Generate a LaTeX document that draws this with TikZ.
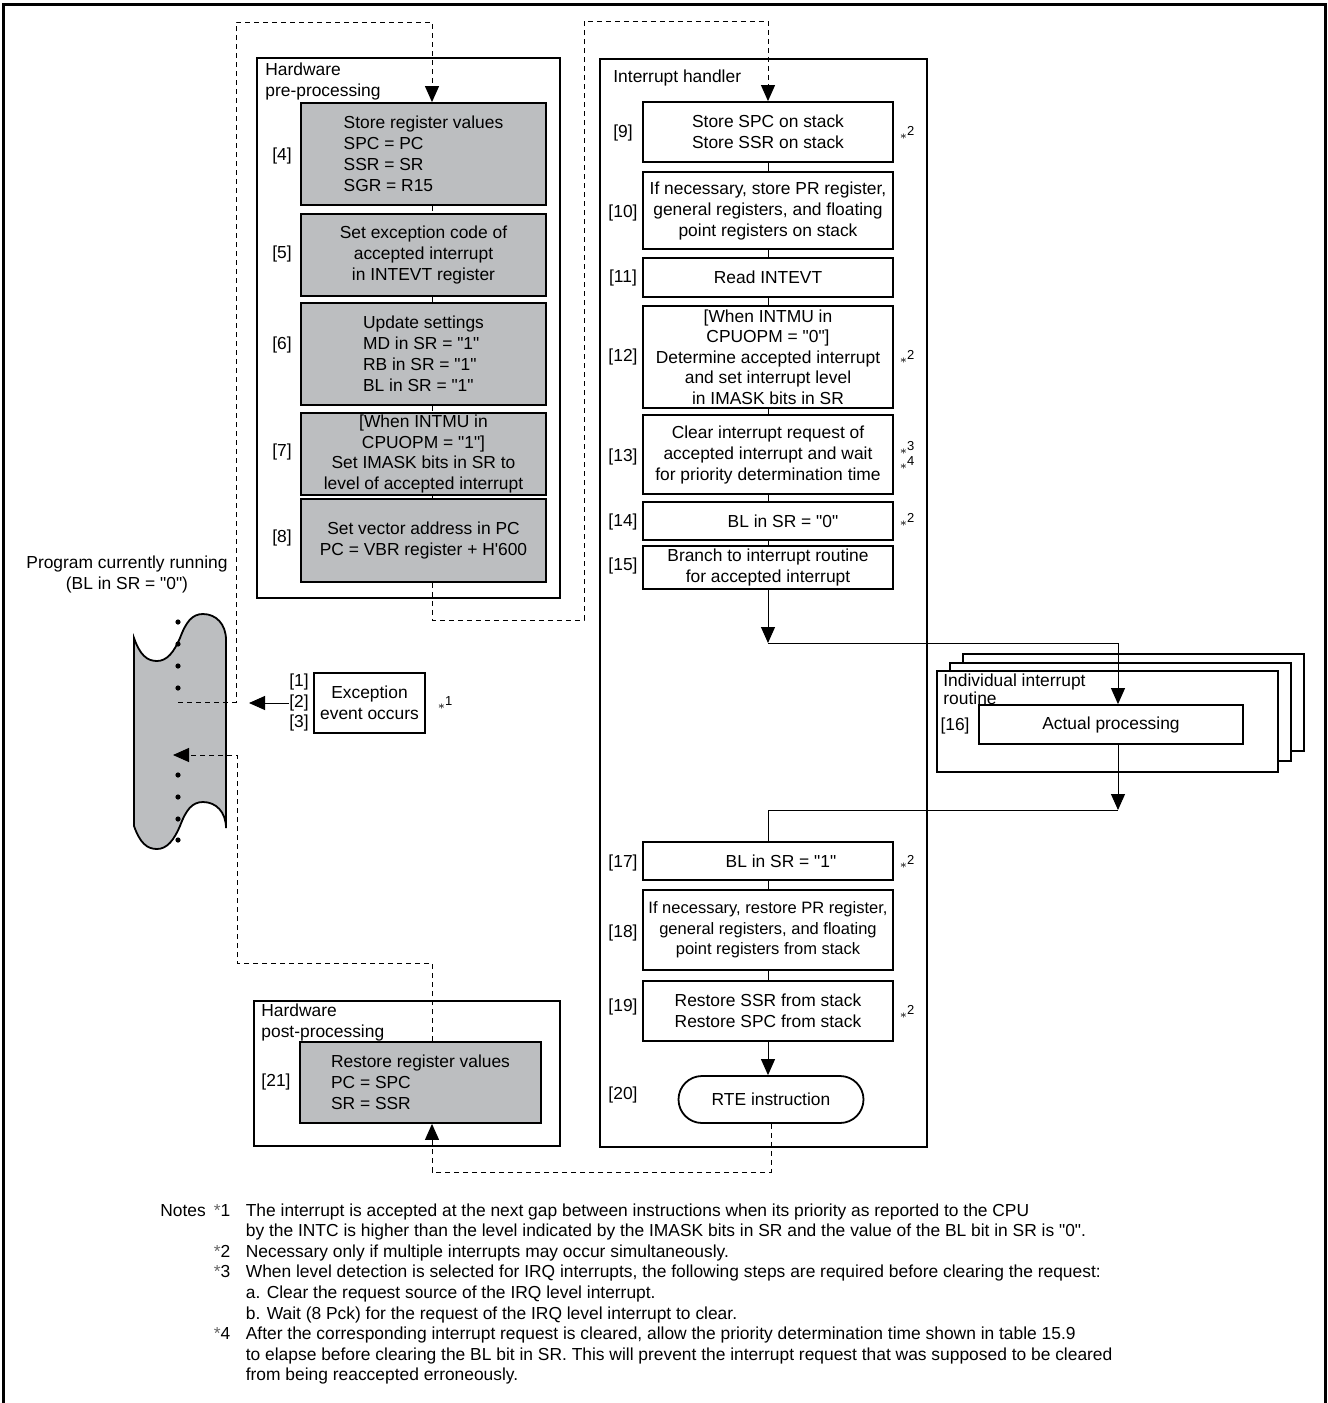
\documentclass[tikz,border=0pt]{standalone}
\usepackage{fontspec}
\setmainfont{Liberation Sans}[Ligatures=TeXOff]
\usetikzlibrary{arrows.meta}
\definecolor{boxgray}{RGB}{188,190,192}
\newcommand{\nstar}[1]{{\fontsize{6.5}{7}\selectfont$\ast$\raisebox{0.6ex}{#1}}}
\newcommand{\nmark}[1]{\makebox[16pt][l]{{\color{black!60}*}#1}}

\begin{document}
\begin{tikzpicture}[x=0.5pt, y=-0.5pt,
  every node/.style={font=\fontsize{8.7}{10.5}\selectfont, inner sep=0pt},
  hwbox/.style={draw, line width=0.9pt, fill=boxgray, minimum width=122.5pt, align=center},
  swbox/.style={draw, line width=0.9pt, fill=white, minimum width=125pt, align=center},
  container/.style={draw, line width=0.9pt},
  dline/.style={line width=0.5pt, dash pattern=on 2.5pt off 2pt},
  sline/.style={line width=0.5pt},
  arr/.style={-{Triangle[length=8pt,width=7pt]}}]
  \useasboundingbox (0,0) rectangle (1328,1403);
  \draw[line width=1.5pt] (3,1403) -- (3,4) -- (1325,4) -- (1325,1403);

  % groups
  \draw[container] (257,58) rectangle (560,598);
  \draw[container] (600,59) rectangle (927,1147);
  \draw[container] (254,1001) rectangle (560,1146);
  \draw[container, fill=white] (963,654) rectangle (1304,751);
  \draw[container, fill=white] (950,663) rectangle (1291,761);
  \draw[container, fill=white] (937,671) rectangle (1278,772);
  \node[anchor=west, align=left] (hwpre) at (265,81.5) {Hardware\\pre-processing};
  \node[anchor=west] (ihtitle) at (613,78) {Interrupt handler};
  \node[anchor=west, align=left, font=\fontsize{8.7}{9.2}\selectfont] (irtitle) at (943,689) {Individual interrupt\\routine};
  \node[anchor=west, align=left] (hwpost) at (261,1022) {Hardware\\post-processing};

  % program currently running
  \node[align=center] (prog) at (127,574.5) {Program currently running\\(BL in SR = "0")};
  \draw[line width=0.9pt, fill=boxgray] (134,826) -- (134,638)
    .. controls (140,655) and (147,661) .. (157,661)
    .. controls (167,661) and (174,652) .. (180,638)
    .. controls (186,622) and (192,614) .. (203,614)
    .. controls (216,614) and (226,624) .. (226,640) -- (226,828)
    .. controls (226,812) and (216,802) .. (203,802)
    .. controls (192,802) and (186,810) .. (180,826)
    .. controls (174,840) and (167,849) .. (157,849)
    .. controls (147,849) and (140,843) .. (134,826) -- cycle;
  \foreach \y in {622,644,666,688,775,797,819,840} \fill (178,\y) circle (1.3pt);
  \coordinate (p1) at (178,702);
  \coordinate (p2) at (173,755);

  % exception
  \node[draw, line width=0.9pt, minimum width=55.5pt, minimum height=30pt, align=center] (exc) at (369.5,703) {Exception\\event occurs};
  \foreach \n/\y in {1/682,2/703,3/723} \node (l\n) at (299,\y) {[\n]};
  \node (s8) at (445,703) {\nstar{1}};
  \coordinate (ex) at (249,703);

  % hardware pre-processing
  \node[hwbox, minimum height=51pt, align=left] (b4) at (423.5,154) {Store register values\\SPC = PC\\SSR = SR\\SGR = R15};
  \node[hwbox, minimum height=41pt] (b5) at (423.5,255) {Set exception code of\\accepted interrupt\\in INTEVT register};
  \node[hwbox, minimum height=51pt, align=left] (b6) at (423.5,354) {Update settings\\MD in SR = "1"\\RB in SR = "1"\\BL in SR = "1"};
  \node[hwbox, minimum height=41pt, font=\fontsize{8.7}{10.3}\selectfont] (b7) at (423.5,454) {[When INTMU in\\CPUOPM = "1"]\\Set IMASK bits in SR to\\level of accepted interrupt};
  \node[hwbox, minimum height=41.5pt] (b8) at (423.5,540.5) {Set vector address in PC\\PC = VBR register + H'600};
  \foreach \n/\y in {4/156,5/254,6/345,7/452,8/538} \node (l\n) at (282,\y) {[\n]};
  \coordinate (dx) at (432,0);

  % interrupt handler
  \node[swbox, minimum height=30pt] (b9) at (768,132) {Store SPC on stack\\Store SSR on stack};
  \node[swbox, minimum height=38.5pt] (b10) at (768,210.5) {If necessary, store PR register,\\general registers, and floating\\point registers on stack};
  \node[swbox, minimum height=19.5pt] (b11) at (768,277.5) {Read INTEVT};
  \node[swbox, minimum height=51pt, font=\fontsize{8.7}{10.2}\selectfont] (b12) at (768,357) {[When INTMU in\\CPUOPM = "0"]\\Determine accepted interrupt\\and set interrupt level\\in IMASK bits in SR};
  \node[swbox, minimum height=39.5pt] (b13) at (768,454.5) {Clear interrupt request of\\accepted interrupt and wait\\for priority determination time};
  \node[swbox, minimum height=19pt] (b14) at (768,521) {\hspace*{15pt}BL in SR = "0"};
  \node[swbox, minimum height=21.5pt] (b15) at (768,567.5) {Branch to interrupt routine\\for accepted interrupt};
  \node[swbox, minimum height=19pt] (b17) at (768,861) {\hspace*{13pt}BL in SR = "1"};
  \node[swbox, minimum height=40pt, font=\fontsize{8.25}{10.3}\selectfont] (b18) at (768,930) {If necessary, restore PR register,\\general registers, and floating\\point registers from stack};
  \node[swbox, minimum height=30pt] (b19) at (768,1011) {Restore SSR from stack\\Restore SPC from stack};
  \node[draw, line width=0.9pt, rounded corners=11.75pt, minimum width=92.5pt, minimum height=23.5pt] (rte) at (771,1099.5) {RTE instruction};
  \foreach \n/\y in {9/133,10/213,11/278,12/357,13/457,14/522,15/566,17/863,18/933,19/1007,20/1095}
    \node (l\n) at (623,\y) {[\n]};
  \foreach \y [count=\i] in {133,357,520,862,1012} \node (s\i) at (907,\y) {\nstar{2}};
  \node (s6) at (907,448) {\nstar{3}};
  \node (s7) at (907,463) {\nstar{4}};

  % individual interrupt routine
  \node[draw, line width=0.9pt, fill=white, minimum width=132pt, minimum height=19.5pt] (act) at (1111,724.5) {Actual processing};
  \node (l16) at (955,726) {[16]};

  % hardware post-processing
  \node[hwbox, minimum width=120.5pt, minimum height=40.5pt, align=left] (b21) at (420.5,1082.5) {Restore register values\\PC = SPC\\SR = SSR};
  \node (l21) at (276,1082) {[21]};

  % connectors
  \draw[sline, arr] (l2.west) -- (ex);
  \draw[dline, arr] (p1) -| (236,22) -| (b4.north -| dx);
  \foreach \a/\b in {b4/b5,b5/b6,b6/b7,b7/b8} \draw[dline] (\a.south -| dx) -- (\b.north -| dx);
  \draw[dline, arr] (b8.south -| dx) -- (432,620) -| (584,21) -| (b9.north);
  \foreach \a/\b in {b9/b10,b10/b11,b11/b12,b12/b13,b13/b14,b14/b15,b17/b18,b18/b19}
    \draw[sline] (\a) -- (\b);
  \coordinate (j1) at (768,643);
  \coordinate (j2) at (1118,643);
  \coordinate (j3) at (1118,810);
  \draw[sline, arr] (b15) -- (j1);
  \draw[sline, arr] (j1) -- (j2) -- (j2 |- act.north);
  \draw[sline, arr] (j2 |- act.south) -- (j3);
  \draw[sline] (j3) -| (b17);
  \draw[sline, arr] (b19) -- (b19 |- rte.north);
  \draw[dline, arr] (rte.south) -- (771,1172) -| (b21.south -| dx);
  \draw[dline, arr] (b21.north -| dx) |- (237,963) |- (p2);

  % notes
  \node[anchor=base west, font=\fontsize{8.7}{10.3}\selectfont] (notes) at (160,1216) {%
    \begin{tabular}[t]{@{}l@{\hspace{4pt}}l@{}l@{}}
    Notes & \nmark{1} & The interrupt is accepted at the next gap between instructions when its priority as reported to the CPU\\
     & & by the INTC is higher than the level indicated by the IMASK bits in SR and the value of the BL bit in SR is "0".\\
     & \nmark{2} & Necessary only if multiple interrupts may occur simultaneously.\\
     & \nmark{3} & When level detection is selected for IRQ interrupts, the following steps are required before clearing the request:\\
     & & a. Clear the request source of the IRQ level interrupt.\\
     & & b. Wait (8 Pck) for the request of the IRQ level interrupt to clear.\\
     & \nmark{4} & After the corresponding interrupt request is cleared, allow the priority determination time shown in table 15.9\\
     & & to elapse before clearing the BL bit in SR. This will prevent the interrupt request that was supposed to be cleared\\
     & & from being reaccepted erroneously.
    \end{tabular}};
\end{tikzpicture}
\end{document}
